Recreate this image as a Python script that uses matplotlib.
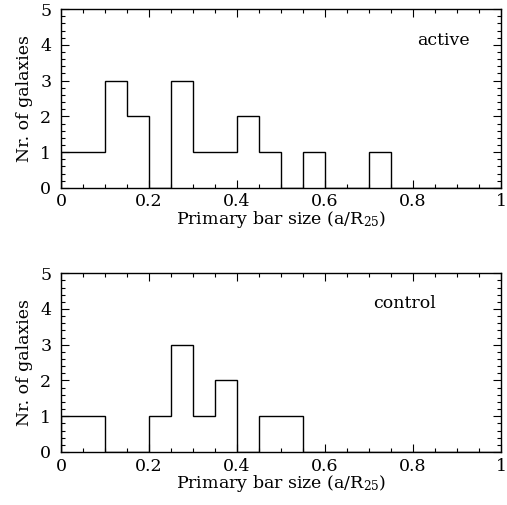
import numpy as np
import matplotlib
matplotlib.use("Agg")
import matplotlib.pyplot as plt
from matplotlib.ticker import MultipleLocator

plt.rcParams["font.family"] = "DejaVu Serif"
plt.rcParams["mathtext.fontset"] = "dejavuserif"

# bin edges (a/R25)
bin_edges = [0.0, 0.05, 0.1, 0.15, 0.2, 0.25, 0.3, 0.35, 0.4, 0.45, 0.5,
             0.55, 0.6, 0.65, 0.7, 0.75, 0.8, 0.85, 0.9, 0.95, 1.0]

# counts per bin
active_counts = [1, 1, 3, 2, 0, 3, 1, 1, 2, 1, 0, 1, 0, 0, 1, 0, 0, 0, 0, 0]
control_counts = [1, 1, 0, 0, 1, 3, 1, 2, 0, 1, 1, 0, 0, 0, 0, 0, 0, 0, 0, 0]

panels = [("active", active_counts, 0.868, 4.13),
          ("control", control_counts, 0.78, 4.16)]

FS = 12.5

fig = plt.figure(figsize=(5.07, 5.05), dpi=100)
axes_rects = [[0.1203, 0.628, 0.868, 0.354],
              [0.1203, 0.105, 0.868, 0.354]]

for rect, (name, counts, tx, ty) in zip(axes_rects, panels):
    ax = fig.add_axes(rect)
    ax.stairs(counts, bin_edges, color="black", linewidth=1.0, baseline=0)
    ax.set_xlim(0, 1)
    ax.set_ylim(0, 5)
    ax.xaxis.set_major_locator(MultipleLocator(0.2))
    ax.xaxis.set_minor_locator(MultipleLocator(0.05))
    ax.yaxis.set_major_locator(MultipleLocator(1))
    ax.yaxis.set_minor_locator(MultipleLocator(0.2))
    ax.set_xticks([0, 0.2, 0.4, 0.6, 0.8, 1.0])
    ax.set_xticklabels(["0", "0.2", "0.4", "0.6", "0.8", "1"])
    ax.tick_params(which="both", direction="in", top=True, right=True,
                   labelsize=FS, width=0.8)
    ax.tick_params(which="major", length=6)
    ax.tick_params(which="minor", length=3)
    ax.tick_params(axis="x", which="major", pad=4)
    ax.tick_params(axis="y", which="major", pad=7)
    for sp in ax.spines.values():
        sp.set_linewidth(1.0)
    ax.set_ylabel("Nr. of galaxies", fontsize=FS, labelpad=5)
    ax.set_xlabel("Primary bar size (a/R$_{25}$)", fontsize=FS, labelpad=-1)
    ax.text(tx, ty, name, ha="center", va="center", fontsize=FS)

fig.savefig("out.png", dpi=100)
